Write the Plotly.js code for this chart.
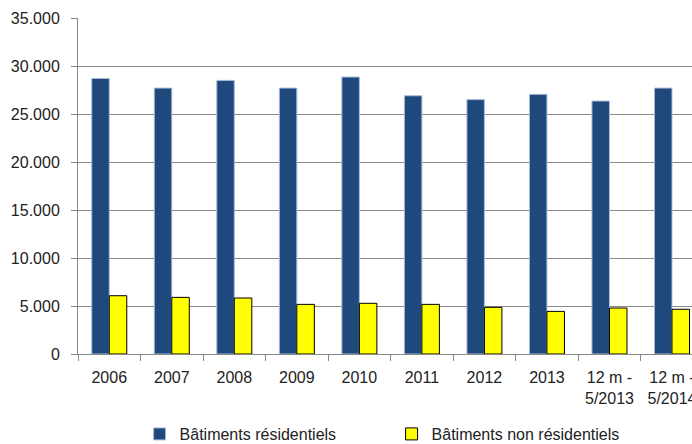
<!DOCTYPE html>
<html>
<head>
<meta charset="utf-8">
<script src="https://cdn.plot.ly/plotly-3.0.1.min.js"></script>
<style>html,body{margin:0;padding:0;background:#fff;}#chart{width:692px;height:444px;}</style>
</head>
<body>
<div id="chart"></div>
<script>
const categories = ["2006","2007","2008","2009","2010","2011","2012","2013","12 m -<br>5/2013","12 m -<br>5/2014"];
const residentiels = [28700,27700,28500,27700,28850,26900,26500,27050,26350,27700];
const nonResidentiels = [6070,5900,5830,5170,5280,5170,4860,4440,4790,4660];
const seriesNames = ["Bâtiments résidentiels","Bâtiments non résidentiels"];
const yTicks = [0,5000,10000,15000,20000,25000,30000,35000];

const font = {family: "Liberation Sans, Arial, sans-serif", size: 16, color: "#222"};

const traces = [
  {type: "bar", name: seriesNames[0], x: categories, y: residentiels,
   marker: {color: "#1F497D", line: {color: "#A9BCD8", width: 1}}},
  {type: "bar", name: seriesNames[1], x: categories, y: nonResidentiels,
   marker: {color: "#FFFF00", line: {color: "#000000", width: 1}}}
];

const layout = {
  width: 692, height: 444,
  margin: {l: 78, r: 0, t: 18, b: 90},
  paper_bgcolor: "#fff", plot_bgcolor: "#fff",
  separators: ",.",
  font: font,
  barmode: "group",
  bargap: 0.44, bargroupgap: 0,
  showlegend: true,
  legend: {orientation: "h", xref: "container", yref: "container", x: 0.2017, y: 0.0225,
           xanchor: "left", yanchor: "middle", entrywidth: 207, entrywidthmode: "pixels",
           font: {family: font.family, size: 16, color: "#222"}, traceorder: "normal"},
  xaxis: {type: "category", range: [-0.5, 9.32], showgrid: false, showline: true,
          linecolor: "#888", linewidth: 1, ticks: "outside", tickson: "boundaries",
          ticklen: 6, tickcolor: "#888", ticklabelstandoff: 9, tickfont: {size: 16}, fixedrange: true},
  yaxis: {range: [0, 35000], tickvals: yTicks, tickformat: ",d", showgrid: true,
          gridcolor: "#888", gridwidth: 1, showline: true, linecolor: "#888",
          ticks: "outside", ticklen: 6, tickcolor: "#888", ticklabelstandoff: 8,
          zeroline: false, tickfont: {size: 16}, fixedrange: true}
};

Plotly.newPlot("chart", traces, layout, {displayModeBar: false, staticPlot: true});
</script>
</body>
</html>
